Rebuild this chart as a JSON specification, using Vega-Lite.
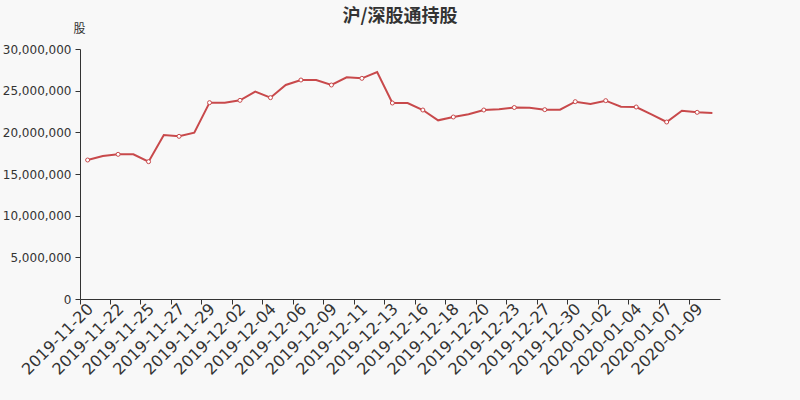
{
  "$schema": "https://vega.github.io/schema/vega-lite/v6.json",
  "autosize": "none",
  "width": 640,
  "height": 250,
  "padding": {"left": 80, "top": 49, "right": 80, "bottom": 101},
  "background": "#f8f8f8",
  "title": {
    "text": "沪/深股通持股",
    "font": "Noto Sans CJK SC",
    "fontSize": 18,
    "fontWeight": "bold",
    "color": "#333333",
    "anchor": "middle",
    "offset": -3
  },
  "config": {
    "view": {"stroke": null},
    "font": "DejaVu Sans"
  },
  "data": {
    "values": [
      {"date": "2019-11-20", "shares": 16680000},
      {"date": "2019-11-21", "shares": 17160000},
      {"date": "2019-11-22", "shares": 17360000},
      {"date": "2019-11-23", "shares": 17360000},
      {"date": "2019-11-25", "shares": 16480000},
      {"date": "2019-11-26", "shares": 19680000},
      {"date": "2019-11-27", "shares": 19520000},
      {"date": "2019-11-28", "shares": 19960000},
      {"date": "2019-11-29", "shares": 23560000},
      {"date": "2019-11-30", "shares": 23560000},
      {"date": "2019-12-02", "shares": 23840000},
      {"date": "2019-12-03", "shares": 24880000},
      {"date": "2019-12-04", "shares": 24160000},
      {"date": "2019-12-05", "shares": 25680000},
      {"date": "2019-12-06", "shares": 26280000},
      {"date": "2019-12-07", "shares": 26280000},
      {"date": "2019-12-09", "shares": 25680000},
      {"date": "2019-12-10", "shares": 26600000},
      {"date": "2019-12-11", "shares": 26480000},
      {"date": "2019-12-12", "shares": 27240000},
      {"date": "2019-12-13", "shares": 23520000},
      {"date": "2019-12-14", "shares": 23520000},
      {"date": "2019-12-16", "shares": 22680000},
      {"date": "2019-12-17", "shares": 21440000},
      {"date": "2019-12-18", "shares": 21840000},
      {"date": "2019-12-19", "shares": 22160000},
      {"date": "2019-12-20", "shares": 22680000},
      {"date": "2019-12-21", "shares": 22760000},
      {"date": "2019-12-23", "shares": 22980000},
      {"date": "2019-12-24", "shares": 22960000},
      {"date": "2019-12-27", "shares": 22720000},
      {"date": "2019-12-28", "shares": 22720000},
      {"date": "2019-12-30", "shares": 23680000},
      {"date": "2019-12-31", "shares": 23400000},
      {"date": "2020-01-02", "shares": 23800000},
      {"date": "2020-01-03", "shares": 23080000},
      {"date": "2020-01-04", "shares": 23040000},
      {"date": "2020-01-06", "shares": 22160000},
      {"date": "2020-01-07", "shares": 21240000},
      {"date": "2020-01-08", "shares": 22600000},
      {"date": "2020-01-09", "shares": 22400000},
      {"date": "2020-01-10", "shares": 22320000}
    ]
  },
  "transform": [
    {"window": [{"op": "row_number", "as": "rn"}]}
  ],
  "encoding": {
    "x": {
      "field": "date",
      "type": "ordinal",
      "sort": null,
      "scale": {"type": "band", "paddingInner": 0, "paddingOuter": 0},
      "axis": {
        "title": null,
        "values": ["2019-11-20", "2019-11-22", "2019-11-25", "2019-11-27", "2019-11-29", "2019-12-02", "2019-12-04", "2019-12-06", "2019-12-09", "2019-12-11", "2019-12-13", "2019-12-16", "2019-12-18", "2019-12-20", "2019-12-23", "2019-12-27", "2019-12-30", "2020-01-02", "2020-01-04", "2020-01-07", "2020-01-09"],
        "bandPosition": 0,
        "labelOffset": 3,
        "labelAngle": -45,
        "labelAlign": "right",
        "labelBaseline": "middle",
        "labelFontSize": 16,
        "labelColor": "#333333",
        "labelPadding": 2,
        "labelOverlap": false,
        "labelBound": false,
        "domainColor": "#333333",
        "tickColor": "#333333",
        "tickSize": 5,
        "grid": false
      }
    },
    "y": {
      "field": "shares",
      "type": "quantitative",
      "scale": {"domain": [0, 30000000], "nice": false},
      "axis": {
        "title": "股",
        "titleFont": "Noto Sans CJK SC",
        "titleFontSize": 12,
        "titleFontWeight": "normal",
        "titleColor": "#333333",
        "titleAngle": 0,
        "titleX": -1,
        "titleY": -20.5,
        "titleAlign": "center",
        "titleBaseline": "middle",
        "values": [0, 5000000, 10000000, 15000000, 20000000, 25000000, 30000000],
        "format": ",d",
        "labelFontSize": 12,
        "labelColor": "#333333",
        "labelPadding": 4,
        "domainColor": "#333333",
        "tickColor": "#333333",
        "tickSize": 5,
        "grid": false
      }
    }
  },
  "layer": [
    {
      "mark": {"type": "line", "color": "#c8494b", "strokeWidth": 2}
    },
    {
      "transform": [{"filter": "datum.rn % 2 == 1"}],
      "mark": {"type": "point", "shape": "circle", "filled": true, "fill": "#ffffff", "stroke": "#c8494b", "strokeWidth": 1, "size": 16, "opacity": 1}
    }
  ]
}
